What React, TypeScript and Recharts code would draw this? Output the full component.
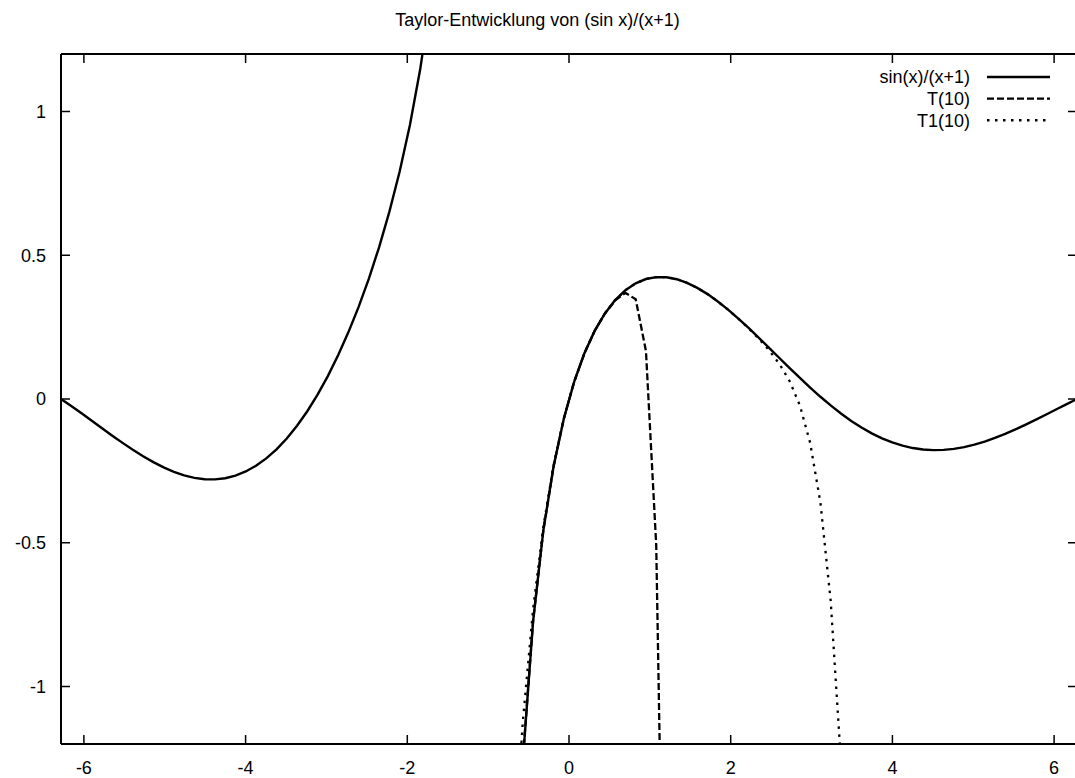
import { Legend, Line, LineChart, XAxis, YAxis } from "recharts"

// gnuplot samples (100 points over [-2pi, 2pi])
const sampleX = [
  -6.2832, -6.1563, -6.0293, -5.9024, -5.7755, -5.6485, -5.5216, -5.3947, -5.2677, -5.1408,
  -5.0139, -4.8869, -4.76, -4.6331, -4.5061, -4.3792, -4.2523, -4.1253, -3.9984, -3.8715,
  -3.7445, -3.6176, -3.4907, -3.3637, -3.2368, -3.1099, -2.9829, -2.856, -2.7291, -2.6021,
  -2.4752, -2.3483, -2.2213, -2.0944, -1.9675, -1.8405, -1.7136, -1.5867, -1.4597, -1.3328,
  -1.2059, -1.0789, -0.952, -0.8251, -0.6981, -0.5712, -0.4443, -0.3173, -0.1904, -0.0635,
  0.0635, 0.1904, 0.3173, 0.4443, 0.5712, 0.6981, 0.8251, 0.952, 1.0789, 1.2059,
  1.3328, 1.4597, 1.5867, 1.7136, 1.8405, 1.9675, 2.0944, 2.2213, 2.3483, 2.4752,
  2.6021, 2.7291, 2.856, 2.9829, 3.1099, 3.2368, 3.3637, 3.4907, 3.6176, 3.7445,
  3.8715, 3.9984, 4.1253, 4.2523, 4.3792, 4.5061, 4.6331, 4.76, 4.8869, 5.0139,
  5.1408, 5.2677, 5.3947, 5.5216, 5.6485, 5.7755, 5.9024, 6.0293, 6.1563, 6.2832,
]

// sin(x)/(x+1) — gap around the pole
const mainY: (number | null)[] = [
  0, -0.0246, -0.0499, -0.0758, -0.1018, -0.1275, -0.1526, -0.1766, -0.1991, -0.2197,
  -0.2379, -0.2534, -0.2657, -0.2744, -0.2792, -0.2797, -0.2755, -0.2664, -0.2521, -0.2322,
  -0.2066, -0.1751, -0.1373, -0.0932, -0.0425, 0.015, 0.0797, 0.1518, 0.2319, 0.3206,
  0.419, 0.5286, 0.6516, 0.7913, 0.9533, 1.1467, 1.3871, null, null, null,
  null, null, null, null, -2.1292, -1.2608, -0.7734, -0.4571, -0.2338, -0.0677,
  0.0596, 0.159, 0.2369, 0.2976, 0.3441, 0.3785, 0.4025, 0.4173, 0.424, 0.4235,
  0.4166, 0.404, 0.3865, 0.3648, 0.3393, 0.3108, 0.2799, 0.247, 0.2129, 0.1779,
  0.1426, 0.1075, 0.0731, 0.0397, 0.0077, -0.0224, -0.0505, -0.0762, -0.0992, -0.1195,
  -0.1369, -0.1512, -0.1624, -0.1706, -0.1757, -0.1778, -0.177, -0.1734, -0.1673, -0.1588,
  -0.1481, -0.1356, -0.1214, -0.1058, -0.0892, -0.0718, -0.0539, -0.0357, -0.0177, 0,
]

// T(10), visible from sample 44 on
const T10_FIRST = 44
const t10Y = [
  -2.0757, -1.2566, -0.7732, -0.4571, -0.2338, -0.0677, 0.0596, 0.159, 0.2369, 0.2975,
  0.3429, 0.369, 0.3468, 0.1664, -0.5093, -2.5681,
]

// T1(10), visible from sample 44 on
const T1_FIRST = 44
const t1Y = [
  -1.6684, -1.1228, -0.7312, -0.4446, -0.2303, -0.0669, 0.0598, 0.159, 0.2369, 0.2976,
  0.3441, 0.3785, 0.4025, 0.4173, 0.424, 0.4235, 0.4166, 0.404, 0.3865, 0.3648,
  0.3393, 0.3107, 0.2795, 0.2459, 0.2096, 0.1694, 0.1222, 0.062, -0.0229, -0.1526,
  -0.361, -0.7025, -1.2621,
]

const xTicks = [-6, -4, -2, 0, 2, 4, 6]
const yTicks = [-1, -0.5, 0, 0.5, 1]
const xDomain = [-6.2832, 6.2832]
const yDomain = [-1.2, 1.2]

const legendItems = [
  { name: "sin(x)/(x+1)", dash: undefined },
  { name: "T(10)", dash: "7 3" },
  { name: "T1(10)", dash: "2.5 5.5" },
]

const pick = (values: number[], first: number, i: number) =>
  i >= first && i < first + values.length ? values[i - first] : null

const rows = sampleX.map((x, i) => ({
  x,
  main: mainY[i],
  t10: pick(t10Y, T10_FIRST, i),
  t1: pick(t1Y, T1_FIRST, i),
}))

const FONT = '"Liberation Sans", Arial, Helvetica, sans-serif'
const tickStyle = { fill: "#000", fontSize: 18, fontFamily: FONT }
const axisLine = { stroke: "#000", strokeWidth: 2 }
const tickLine = { stroke: "#000", strokeWidth: 1.5 }
const noLabel = () => ""

function renderLegend() {
  return (
    <svg width={1075} height={140} style={{ display: "block" }}>
      {legendItems.map((item, i) => {
        const y = 77 + i * 21.6
        return (
          <g key={item.name}>
            <text
              x={970}
              y={y}
              dy="0.35em"
              textAnchor="end"
              fontSize={18}
              fontFamily={FONT}
              fill="#000"
            >
              {item.name}
            </text>
            <line
              x1={987}
              x2={1050}
              y1={y}
              y2={y}
              stroke="#000"
              strokeWidth={2.4}
              strokeDasharray={item.dash}
            />
          </g>
        )
      })}
    </svg>
  )
}

export default function App() {
  return (
    <div
      style={{
        position: "absolute",
        left: 0,
        top: 0,
        width: 1075,
        height: 778,
        overflow: "hidden",
        background: "#fff",
        fontFamily: FONT,
      }}
    >
      <div
        style={{
          position: "absolute",
          top: 9.5,
          left: 0,
          width: 1075,
          textAlign: "center",
          fontSize: 18,
          lineHeight: "20px",
          color: "#000",
        }}
      >
        Taylor-Entwicklung von (sin x)/(x+1)
      </div>
      <LineChart
        width={1077}
        height={778}
        data={rows}
        margin={{ top: 54, right: 0, bottom: 0, left: 0 }}
      >
        {/* labelled axes (bottom, left) */}
        <XAxis
          dataKey="x"
          type="number"
          domain={xDomain}
          ticks={xTicks}
          allowDataOverflow
          height={34}
          tickSize={0}
          tickMargin={17}
          tick={tickStyle}
          axisLine={axisLine}
          tickLine={false}
        />
        <YAxis
          type="number"
          domain={yDomain}
          ticks={yTicks}
          allowDataOverflow
          width={61}
          tickSize={0}
          tickMargin={15}
          tick={tickStyle}
          axisLine={axisLine}
          tickLine={false}
        />
        {/* mirrored axes: inward tick marks on all four sides */}
        <XAxis
          xAxisId="bottomTicks"
          orientation="bottom"
          mirror
          dataKey="x"
          type="number"
          domain={xDomain}
          ticks={xTicks}
          allowDataOverflow
          tickSize={9}
          tick={tickStyle}
          tickFormatter={noLabel}
          axisLine={false}
          tickLine={tickLine}
        />
        <XAxis
          xAxisId="topTicks"
          orientation="top"
          mirror
          dataKey="x"
          type="number"
          domain={xDomain}
          ticks={xTicks}
          allowDataOverflow
          tickSize={9}
          tick={tickStyle}
          tickFormatter={noLabel}
          axisLine={axisLine}
          tickLine={tickLine}
        />
        <YAxis
          yAxisId="leftTicks"
          orientation="left"
          mirror
          type="number"
          domain={yDomain}
          ticks={yTicks}
          allowDataOverflow
          tickSize={9}
          tick={tickStyle}
          tickFormatter={noLabel}
          axisLine={false}
          tickLine={tickLine}
        />
        <YAxis
          yAxisId="rightTicks"
          orientation="right"
          mirror
          type="number"
          domain={yDomain}
          ticks={yTicks}
          allowDataOverflow
          tickSize={9}
          tick={tickStyle}
          tickFormatter={noLabel}
          axisLine={axisLine}
          tickLine={tickLine}
        />
        <Legend
          layout="horizontal"
          align="center"
          verticalAlign="middle"
          content={renderLegend}
          wrapperStyle={{ position: "absolute", left: 0, top: 0, width: 1075, height: 140 }}
        />
        <Line
          dataKey="main"
          type="linear"
          stroke="#000"
          strokeWidth={2.4}
          dot={false}
          connectNulls={false}
          isAnimationActive={false}
        />
        <Line
          dataKey="t10"
          type="linear"
          stroke="#000"
          strokeWidth={2.3}
          strokeDasharray="7 3"
          dot={false}
          connectNulls={false}
          isAnimationActive={false}
        />
        <Line
          dataKey="t1"
          type="linear"
          stroke="#000"
          strokeWidth={2.3}
          strokeDasharray="2.5 5.5"
          dot={false}
          connectNulls={false}
          isAnimationActive={false}
        />
      </LineChart>
    </div>
  )
}
